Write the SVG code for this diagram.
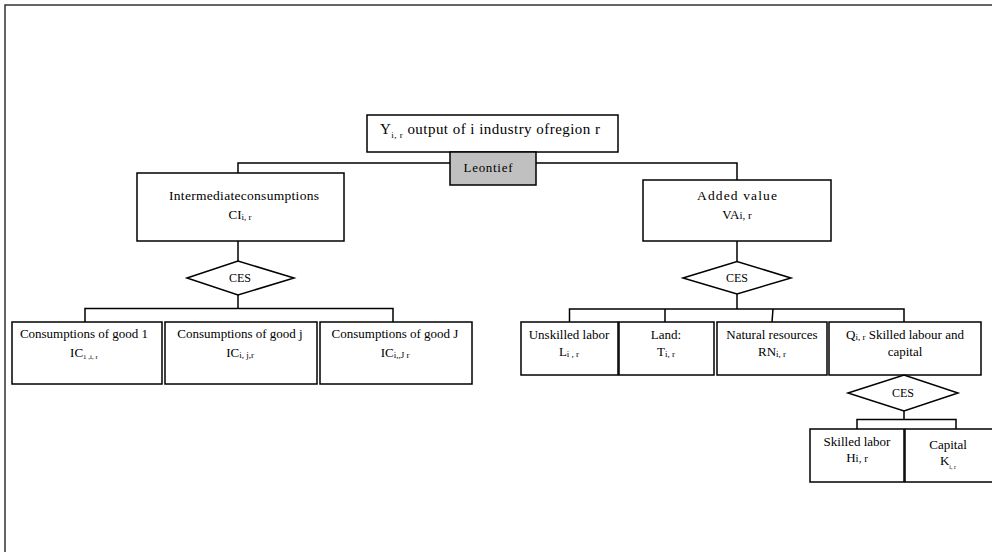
<svg xmlns="http://www.w3.org/2000/svg" width="992" height="552" viewBox="0 0 992 552">
<style>
.box{fill:#fff;stroke:#000;stroke-width:1.5}
.grey{fill:#c0c0c0;stroke:#000;stroke-width:1.5}
.con{fill:none;stroke:#000;stroke-width:1.5}
text{font-family:"Liberation Serif","Times New Roman",serif;font-size:13px;fill:#000}
.m{text-anchor:middle}
.s{font-size:9px}
</style>
<rect width="992" height="552" fill="#fff"/>
<path d="M5,552 V5 H992" fill="none" stroke="#333" stroke-width="1.5"/>
<g id="connectors">
<path class="con" d="M238,173 V163 H737 V180"/>
<path class="con" d="M238,241 V261 M238,295 V308.5 M85,322 V308.5 H393 V322"/>
<path class="con" d="M737,241 V262 M737,294 V309 M569.5,322 V309 H904 V322 M665,309 V322 M773,309 L772,322"/>
<path class="con" d="M904,411 V419.5 M857,429 V419.5 H956 V429"/>
</g>
<g id="output">
<rect class="box" x="367" y="115" width="251" height="37"/>
<text x="380" y="134" style="font-size:15px" textLength="220" lengthAdjust="spacing">Y<tspan class="s" dy="4">i, r</tspan><tspan dy="-4"> output of i industry ofregion r</tspan></text>
</g>
<g id="leontief">
<rect class="grey" x="450" y="152" width="86" height="33"/>
<text class="m" x="488" y="172" textLength="49" lengthAdjust="spacing">Leontief</text>
</g>
<g id="intermediate">
<rect class="box" x="137" y="173" width="207" height="68"/>
<text class="m" x="244" y="200" style="font-size:13.5px" textLength="150" lengthAdjust="spacing">Intermediateconsumptions</text>
<text class="m" x="240" y="219">CI<tspan class="s" dy="1">i, r</tspan></text>
</g>
<g id="added-value">
<rect class="box" x="643" y="180" width="188" height="61"/>
<text class="m" x="737" y="200" style="font-size:13.5px" textLength="80" lengthAdjust="spacing">Added  value</text>
<text class="m" x="737" y="219">VA<tspan style="font-size:11px">i, r</tspan></text>
</g>
<g id="ces-left">
<polygon class="box" points="187,278 238,261 294,278 238,295"/>
<text class="m" x="240" y="282" style="font-size:12px">CES</text>
</g>
<g id="ces-right">
<polygon class="box" points="683,278 737,261.5 791,278 737,294"/>
<text class="m" x="737" y="282" style="font-size:12px">CES</text>
</g>
<g id="good1">
<rect class="box" x="12" y="322" width="150" height="62"/>
<text class="m" x="84" y="338">Consumptions of good 1</text>
<text class="m" x="84" y="357">IC<tspan style="font-size:7px" dy="2">1 ,i, r</tspan></text>
</g>
<g id="goodj">
<rect class="box" x="165" y="322" width="152" height="62"/>
<text class="m" x="240" y="338">Consumptions of good j</text>
<text class="m" x="240" y="357">IC<tspan class="s" dy="1">i, j,r</tspan></text>
</g>
<g id="goodJ">
<rect class="box" x="320" y="322" width="152" height="62"/>
<text class="m" x="395" y="338">Consumptions of good J</text>
<text class="m" x="395" y="357">IC<tspan class="s" dy="1">i,,J r</tspan></text>
</g>
<g id="unskilled">
<rect class="box" x="521" y="322" width="97" height="53"/>
<text class="m" x="569" y="339">Unskilled labor</text>
<text class="m" x="569" y="356">L<tspan class="s" dy="1">i , r</tspan></text>
</g>
<g id="land">
<rect class="box" x="619" y="322" width="95" height="53"/>
<text class="m" x="666" y="339">Land:</text>
<text class="m" x="666" y="356">T<tspan class="s" dy="1">i, r</tspan></text>
</g>
<g id="natural">
<rect class="box" x="717" y="322" width="110" height="53"/>
<text class="m" x="772" y="339">Natural resources</text>
<text class="m" x="772" y="356">RN<tspan class="s" dy="1">i, r</tspan></text>
</g>
<g id="q">
<rect class="box" x="829" y="322" width="152" height="53"/>
<text class="m" x="905" y="339">Q<tspan class="s" dy="1">i, r</tspan><tspan dy="-1"> Skilled labour and</tspan></text>
<text class="m" x="905" y="356">capital</text>
</g>
<g id="ces-q">
<polygon class="box" points="848,393 904,375 958,393 904,411"/>
<text class="m" x="903" y="397" style="font-size:12px">CES</text>
</g>
<g id="skilled">
<rect class="box" x="810" y="429" width="94" height="53"/>
<text class="m" x="857" y="446">Skilled labor</text>
<text class="m" x="857" y="462">H<tspan style="font-size:11px">i, r</tspan></text>
</g>
<g id="capital">
<rect class="box" x="905" y="429" width="92" height="53"/>
<text class="m" x="948" y="449">Capital</text>
<text class="m" x="948" y="465">K<tspan style="font-size:6px" dy="4">i, r</tspan></text>
</g>
</svg>
